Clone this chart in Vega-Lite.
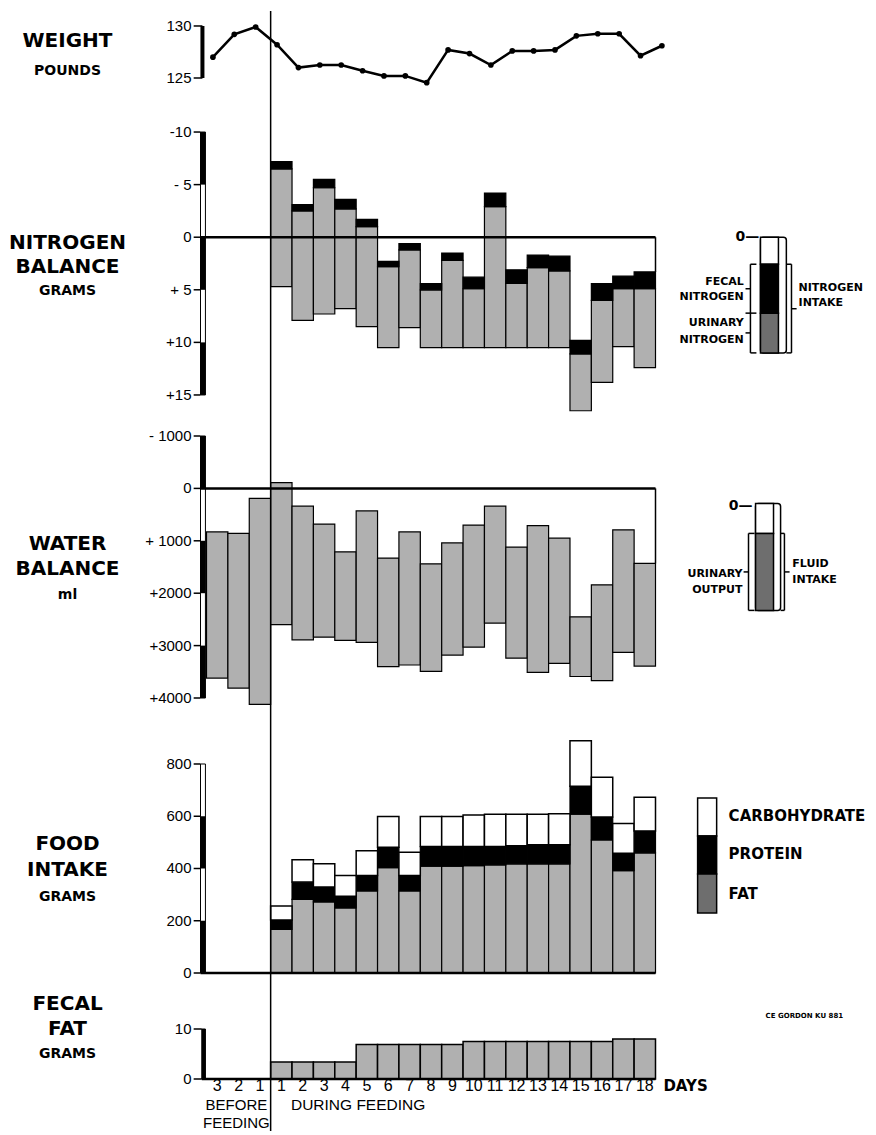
{
"$schema": "https://vega.github.io/schema/vega-lite/v6.json",
"padding": {"left": 8.5, "top": 10, "right": 0, "bottom": 0},
"background": "white",
"bounds": "flush",
"spacing": 0,
"data": {"values": [{}]},
"config": {"view": {"stroke": null}},
"datasets": {
"weight": [
{"t": -2.7, "pounds": 127.0}, {"t": -1.7, "pounds": 129.2}, {"t": -0.7, "pounds": 129.9}, {"t": 0.3, "pounds": 128.2},
{"t": 1.3, "pounds": 126.0}, {"t": 2.3, "pounds": 126.25}, {"t": 3.3, "pounds": 126.25}, {"t": 4.3, "pounds": 125.7},
{"t": 5.3, "pounds": 125.2}, {"t": 6.3, "pounds": 125.2}, {"t": 7.3, "pounds": 124.55}, {"t": 8.3, "pounds": 127.7},
{"t": 9.3, "pounds": 127.35}, {"t": 10.3, "pounds": 126.25}, {"t": 11.3, "pounds": 127.6}, {"t": 12.3, "pounds": 127.6},
{"t": 13.3, "pounds": 127.7}, {"t": 14.3, "pounds": 129.05}, {"t": 15.3, "pounds": 129.25}, {"t": 16.3, "pounds": 129.25},
{"t": 17.3, "pounds": 127.15}, {"t": 18.3, "pounds": 128.1}
],
"nitrogen": [
{"day": 1, "t0": 0, "t1": 1, "balance": -7.2, "split": -6.5, "intake": 4.7},
{"day": 2, "t0": 1, "t1": 2, "balance": -3.1, "split": -2.5, "intake": 7.9},
{"day": 3, "t0": 2, "t1": 3, "balance": -5.5, "split": -4.7, "intake": 7.3},
{"day": 4, "t0": 3, "t1": 4, "balance": -3.6, "split": -2.7, "intake": 6.8},
{"day": 5, "t0": 4, "t1": 5, "balance": -1.7, "split": -1.0, "intake": 8.5},
{"day": 6, "t0": 5, "t1": 6, "balance": 2.3, "split": 2.8, "intake": 10.5},
{"day": 7, "t0": 6, "t1": 7, "balance": 0.6, "split": 1.2, "intake": 8.6},
{"day": 8, "t0": 7, "t1": 8, "balance": 4.4, "split": 5.0, "intake": 10.5},
{"day": 9, "t0": 8, "t1": 9, "balance": 1.5, "split": 2.2, "intake": 10.5},
{"day": 10, "t0": 9, "t1": 10, "balance": 3.8, "split": 4.9, "intake": 10.5},
{"day": 11, "t0": 10, "t1": 11, "balance": -4.2, "split": -2.9, "intake": 10.5},
{"day": 12, "t0": 11, "t1": 12, "balance": 3.1, "split": 4.4, "intake": 10.5},
{"day": 13, "t0": 12, "t1": 13, "balance": 1.7, "split": 2.9, "intake": 10.5},
{"day": 14, "t0": 13, "t1": 14, "balance": 1.8, "split": 3.2, "intake": 10.5},
{"day": 15, "t0": 14, "t1": 15, "balance": 9.8, "split": 11.1, "intake": 16.5},
{"day": 16, "t0": 15, "t1": 16, "balance": 4.4, "split": 6.0, "intake": 13.8},
{"day": 17, "t0": 16, "t1": 17, "balance": 3.7, "split": 4.9, "intake": 10.4},
{"day": 18, "t0": 17, "t1": 18, "balance": 3.3, "split": 4.9, "intake": 12.4}
],
"water": [
{"day": -3, "t0": -3, "t1": -2, "balance": 830, "intake": 3620},
{"day": -2, "t0": -2, "t1": -1, "balance": 860, "intake": 3810},
{"day": -1, "t0": -1, "t1": 0, "balance": 190, "intake": 4120},
{"day": 1, "t0": 0, "t1": 1, "balance": -110, "intake": 2600},
{"day": 2, "t0": 1, "t1": 2, "balance": 340, "intake": 2890},
{"day": 3, "t0": 2, "t1": 3, "balance": 680, "intake": 2840},
{"day": 4, "t0": 3, "t1": 4, "balance": 1210, "intake": 2900},
{"day": 5, "t0": 4, "t1": 5, "balance": 430, "intake": 2940},
{"day": 6, "t0": 5, "t1": 6, "balance": 1330, "intake": 3400},
{"day": 7, "t0": 6, "t1": 7, "balance": 830, "intake": 3370},
{"day": 8, "t0": 7, "t1": 8, "balance": 1440, "intake": 3490},
{"day": 9, "t0": 8, "t1": 9, "balance": 1040, "intake": 3180},
{"day": 10, "t0": 9, "t1": 10, "balance": 700, "intake": 3030},
{"day": 11, "t0": 10, "t1": 11, "balance": 340, "intake": 2570},
{"day": 12, "t0": 11, "t1": 12, "balance": 1120, "intake": 3240},
{"day": 13, "t0": 12, "t1": 13, "balance": 710, "intake": 3510},
{"day": 14, "t0": 13, "t1": 14, "balance": 950, "intake": 3340},
{"day": 15, "t0": 14, "t1": 15, "balance": 2450, "intake": 3590},
{"day": 16, "t0": 15, "t1": 16, "balance": 1840, "intake": 3670},
{"day": 17, "t0": 16, "t1": 17, "balance": 790, "intake": 3130},
{"day": 18, "t0": 17, "t1": 18, "balance": 1430, "intake": 3390}
],
"food": [
{"day": 1, "t0": 0, "t1": 1, "fat": 167, "protein_top": 203, "total": 256},
{"day": 2, "t0": 1, "t1": 2, "fat": 282, "protein_top": 348, "total": 433},
{"day": 3, "t0": 2, "t1": 3, "fat": 272, "protein_top": 329, "total": 418},
{"day": 4, "t0": 3, "t1": 4, "fat": 249, "protein_top": 294, "total": 373},
{"day": 5, "t0": 4, "t1": 5, "fat": 314, "protein_top": 373, "total": 468},
{"day": 6, "t0": 5, "t1": 6, "fat": 403, "protein_top": 481, "total": 599},
{"day": 7, "t0": 6, "t1": 7, "fat": 314, "protein_top": 373, "total": 462},
{"day": 8, "t0": 7, "t1": 8, "fat": 409, "protein_top": 484, "total": 599},
{"day": 9, "t0": 8, "t1": 9, "fat": 409, "protein_top": 484, "total": 599},
{"day": 10, "t0": 9, "t1": 10, "fat": 411, "protein_top": 484, "total": 605},
{"day": 11, "t0": 10, "t1": 11, "fat": 414, "protein_top": 484, "total": 608},
{"day": 12, "t0": 11, "t1": 12, "fat": 418, "protein_top": 487, "total": 608},
{"day": 13, "t0": 12, "t1": 13, "fat": 418, "protein_top": 491, "total": 608},
{"day": 14, "t0": 13, "t1": 14, "fat": 418, "protein_top": 491, "total": 610},
{"day": 15, "t0": 14, "t1": 15, "fat": 608, "protein_top": 715, "total": 889},
{"day": 16, "t0": 15, "t1": 16, "fat": 509, "protein_top": 597, "total": 749},
{"day": 17, "t0": 16, "t1": 17, "fat": 392, "protein_top": 458, "total": 572},
{"day": 18, "t0": 17, "t1": 18, "fat": 460, "protein_top": 544, "total": 673}
],
"fecalfat": [
{"day": -3, "label": "3", "t0": -3, "t1": -2, "grams": 0},
{"day": -2, "label": "2", "t0": -2, "t1": -1, "grams": 0},
{"day": -1, "label": "1", "t0": -1, "t1": 0, "grams": 0},
{"day": 1, "label": "1", "t0": 0, "t1": 1, "grams": 3.4},
{"day": 2, "label": "2", "t0": 1, "t1": 2, "grams": 3.4},
{"day": 3, "label": "3", "t0": 2, "t1": 3, "grams": 3.4},
{"day": 4, "label": "4", "t0": 3, "t1": 4, "grams": 3.4},
{"day": 5, "label": "5", "t0": 4, "t1": 5, "grams": 6.9},
{"day": 6, "label": "6", "t0": 5, "t1": 6, "grams": 6.9},
{"day": 7, "label": "7", "t0": 6, "t1": 7, "grams": 6.9},
{"day": 8, "label": "8", "t0": 7, "t1": 8, "grams": 6.9},
{"day": 9, "label": "9", "t0": 8, "t1": 9, "grams": 6.9},
{"day": 10, "label": "10", "t0": 9, "t1": 10, "grams": 7.5},
{"day": 11, "label": "11", "t0": 10, "t1": 11, "grams": 7.5},
{"day": 12, "label": "12", "t0": 11, "t1": 12, "grams": 7.5},
{"day": 13, "label": "13", "t0": 12, "t1": 13, "grams": 7.5},
{"day": 14, "label": "14", "t0": 13, "t1": 14, "grams": 7.5},
{"day": 15, "label": "15", "t0": 14, "t1": 15, "grams": 7.5},
{"day": 16, "label": "16", "t0": 15, "t1": 16, "grams": 7.5},
{"day": 17, "label": "17", "t0": 16, "t1": 17, "grams": 8.0},
{"day": 18, "label": "18", "t0": 17, "t1": 18, "grams": 8.0}
],
"scalebars": [
{"panel": "nitrogen", "lo": -10, "hi": -5}, {"panel": "nitrogen", "lo": 0, "hi": 5}, {"panel": "nitrogen", "lo": 10, "hi": 15},
{"panel": "water", "lo": -1000, "hi": 0}, {"panel": "water", "lo": 1000, "hi": 2000}, {"panel": "water", "lo": 3000, "hi": 4000},
{"panel": "food", "lo": 0, "hi": 200}, {"panel": "food", "lo": 400, "hi": 600}
],
"yticks": [
{"panel": "weight", "value": 125, "label": "125"}, {"panel": "weight", "value": 130, "label": "130"},
{"panel": "nitrogen", "value": -10, "label": "-10"}, {"panel": "nitrogen", "value": -5, "label": "- 5"}, {"panel": "nitrogen", "value": 0, "label": "0"},
{"panel": "nitrogen", "value": 5, "label": "+ 5"}, {"panel": "nitrogen", "value": 10, "label": "+10"}, {"panel": "nitrogen", "value": 15, "label": "+15"},
{"panel": "water", "value": -1000, "label": "- 1000"}, {"panel": "water", "value": 0, "label": "0"}, {"panel": "water", "value": 1000, "label": "+ 1000"},
{"panel": "water", "value": 2000, "label": "+2000"}, {"panel": "water", "value": 3000, "label": "+3000"}, {"panel": "water", "value": 4000, "label": "+4000"},
{"panel": "food", "value": 0, "label": "0"}, {"panel": "food", "value": 200, "label": "200"}, {"panel": "food", "value": 400, "label": "400"},
{"panel": "food", "value": 600, "label": "600"}, {"panel": "food", "value": 800, "label": "800"},
{"panel": "fecal", "value": 0, "label": "0"}, {"panel": "fecal", "value": 10, "label": "10"}
]
},
"vconcat": [
{
"width": 449, "height": 98,
"layer": [
{"data": {"name": "weight"},
 "mark": {"type": "line", "color": "black", "strokeWidth": 2.5},
 "encoding": {"x": {"field": "t", "type": "quantitative", "scale": {"domain": [-3, 18], "nice": false, "zero": false}, "axis": null},
  "y": {"field": "pounds", "type": "quantitative", "scale": {"domain": [122.02, 131.44], "nice": false, "zero": false}, "axis": null}}},
{"data": {"name": "weight"},
 "mark": {"type": "circle", "color": "black", "opacity": 1, "size": 32},
 "encoding": {"x": {"field": "t", "type": "quantitative", "scale": {"domain": [-3, 18], "nice": false, "zero": false}, "axis": null},
  "y": {"field": "pounds", "type": "quantitative", "scale": {"domain": [122.02, 131.44], "nice": false, "zero": false}, "axis": null}}},
{"data": {"name": "yticks"}, "transform": [{"filter": "datum.panel == 'weight'"}],
 "mark": {"type": "rule", "color": "black", "strokeWidth": 1.5},
 "encoding": {"x": {"datum": -3.6, "type": "quantitative", "scale": {"domain": [-3, 18], "nice": false, "zero": false}, "axis": null}, "x2": {"datum": -3.19},
  "y": {"field": "value", "type": "quantitative", "scale": {"domain": [122.02, 131.44], "nice": false, "zero": false}, "axis": null}}},
{"data": {"name": "yticks"}, "transform": [{"filter": "datum.panel == 'weight'"}],
 "mark": {"type": "text", "font": "Liberation Sans", "fontSize": 15, "align": "right", "baseline": "middle", "color": "black"},
 "encoding": {"x": {"datum": -3.7, "type": "quantitative", "scale": {"domain": [-3, 18], "nice": false, "zero": false}, "axis": null},
  "y": {"field": "value", "type": "quantitative", "scale": {"domain": [122.02, 131.44], "nice": false, "zero": false}, "axis": null},
  "text": {"field": "label", "type": "nominal"}}},
{"mark": {"type": "rule", "color": "black", "strokeWidth": 4},
 "encoding": {"x": {"datum": -3.19, "type": "quantitative", "scale": {"domain": [-3, 18], "nice": false, "zero": false}, "axis": null},
  "y": {"datum": 125, "type": "quantitative", "scale": {"domain": [122.02, 131.44], "nice": false, "zero": false}, "axis": null},
  "y2": {"datum": 130}}},
{"mark": {"type": "rule", "color": "black", "strokeWidth": 1.5},
 "encoding": {"x": {"datum": 0, "type": "quantitative", "scale": {"domain": [-3, 18], "nice": false, "zero": false}, "axis": null},
  "y": {"datum": 131.44, "type": "quantitative", "scale": {"domain": [122.02, 131.44], "nice": false, "zero": false}, "axis": null}, "y2": {"datum": 122.02}}},
{"mark": {"type": "text", "font": "DejaVu Sans", "fontWeight": "bold", "fontSize": 20, "align": "center", "baseline": "middle", "color": "black"},
 "encoding": {"x": {"datum": -9.5, "type": "quantitative", "scale": {"domain": [-3, 18], "nice": false, "zero": false}, "axis": null},
  "y": {"datum": 128.56, "type": "quantitative", "scale": {"domain": [122.02, 131.44], "nice": false, "zero": false}, "axis": null},
  "text": {"value": "WEIGHT"}}},
{"mark": {"type": "text", "font": "DejaVu Sans", "fontWeight": "bold", "fontSize": 14, "align": "center", "baseline": "middle", "color": "black"},
 "encoding": {"x": {"datum": -9.5, "type": "quantitative", "scale": {"domain": [-3, 18], "nice": false, "zero": false}, "axis": null},
  "y": {"datum": 125.67, "type": "quantitative", "scale": {"domain": [122.02, 131.44], "nice": false, "zero": false}, "axis": null},
  "text": {"value": "POUNDS"}}}
]
},
{
"width": 449, "height": 307,
"layer": [
{"data": {"name": "nitrogen"},
 "mark": {"type": "rect", "fill": "#b0b0b0", "stroke": "black", "strokeWidth": 1.2},
 "encoding": {"x": {"field": "t0", "type": "quantitative", "scale": {"domain": [-3, 18], "nice": false, "zero": false}, "axis": null}, "x2": {"field": "t1"},
  "y": {"field": "split", "type": "quantitative", "scale": {"domain": [-12.19, 17.0], "nice": false, "zero": false, "reverse": true}, "axis": null},
  "y2": {"field": "intake"}}},
{"data": {"name": "nitrogen"},
 "mark": {"type": "rect", "fill": "black", "stroke": "black", "strokeWidth": 1.2},
 "encoding": {"x": {"field": "t0", "type": "quantitative", "scale": {"domain": [-3, 18], "nice": false, "zero": false}, "axis": null}, "x2": {"field": "t1"},
  "y": {"field": "balance", "type": "quantitative", "scale": {"domain": [-12.19, 17.0], "nice": false, "zero": false, "reverse": true}, "axis": null}, "y2": {"field": "split"}}},
{"data": {"name": "yticks"}, "transform": [{"filter": "datum.panel == 'nitrogen'"}],
 "mark": {"type": "rule", "color": "black", "strokeWidth": 1.5},
 "encoding": {"x": {"datum": -3.6, "type": "quantitative", "scale": {"domain": [-3, 18], "nice": false, "zero": false}, "axis": null}, "x2": {"datum": -3.28},
  "y": {"field": "value", "type": "quantitative", "scale": {"domain": [-12.19, 17.0], "nice": false, "zero": false, "reverse": true}, "axis": null}}},
{"data": {"name": "yticks"}, "transform": [{"filter": "datum.panel == 'nitrogen'"}],
 "mark": {"type": "text", "font": "Liberation Sans", "fontSize": 15, "align": "right", "baseline": "middle", "color": "black"},
 "encoding": {"x": {"datum": -3.7, "type": "quantitative", "scale": {"domain": [-3, 18], "nice": false, "zero": false}, "axis": null},
  "y": {"field": "value", "type": "quantitative", "scale": {"domain": [-12.19, 17.0], "nice": false, "zero": false, "reverse": true}, "axis": null},
  "text": {"field": "label", "type": "nominal"}}},
{"mark": {"type": "rect", "fill": "white", "stroke": "black", "strokeWidth": 1},
 "encoding": {"x": {"datum": -3.28, "type": "quantitative", "scale": {"domain": [-3, 18], "nice": false, "zero": false}, "axis": null}, "x2": {"datum": -3.05},
  "y": {"datum": -10, "type": "quantitative", "scale": {"domain": [-12.19, 17.0], "nice": false, "zero": false, "reverse": true}, "axis": null},
  "y2": {"datum": 15}}},
{"data": {"name": "scalebars"}, "transform": [{"filter": "datum.panel == 'nitrogen'"}],
 "mark": {"type": "rect", "fill": "black"},
 "encoding": {"x": {"datum": -3.28, "type": "quantitative", "scale": {"domain": [-3, 18], "nice": false, "zero": false}, "axis": null}, "x2": {"datum": -3.05},
  "y": {"field": "lo", "type": "quantitative", "scale": {"domain": [-12.19, 17.0], "nice": false, "zero": false, "reverse": true}, "axis": null}, "y2": {"field": "hi"}}},
{"mark": {"type": "rule", "color": "black", "strokeWidth": 2.5},
 "encoding": {"x": {"datum": -3.28, "type": "quantitative", "scale": {"domain": [-3, 18], "nice": false, "zero": false}, "axis": null}, "x2": {"datum": 18},
  "y": {"datum": 0, "type": "quantitative", "scale": {"domain": [-12.19, 17.0], "nice": false, "zero": false, "reverse": true}, "axis": null}}},
{"mark": {"type": "rule", "color": "black", "strokeWidth": 1.5},
 "encoding": {"x": {"datum": 0, "type": "quantitative", "scale": {"domain": [-3, 18], "nice": false, "zero": false}, "axis": null},
  "y": {"datum": -12.19, "type": "quantitative", "scale": {"domain": [-12.19, 17.0], "nice": false, "zero": false, "reverse": true}, "axis": null}, "y2": {"datum": 17.0}}},
{"data": {"name": "nitrogen"}, "transform": [{"filter": "datum.day == 18"}],
 "mark": {"type": "rule", "color": "black", "strokeWidth": 1.5},
 "encoding": {"x": {"field": "t1", "type": "quantitative", "scale": {"domain": [-3, 18], "nice": false, "zero": false}, "axis": null},
  "y": {"field": "balance", "type": "quantitative", "scale": {"domain": [-12.19, 17.0], "nice": false, "zero": false, "reverse": true}, "axis": null}, "y2": {"datum": 0}}},
{"mark": {"type": "rect", "fill": "white", "stroke": "black", "strokeWidth": 1.5, "cornerRadius": 3},
 "encoding": {"x": {"datum": 22.91, "type": "quantitative", "scale": {"domain": [-3, 18], "nice": false, "zero": false}, "axis": null}, "x2": {"datum": 24.12},
  "y": {"datum": 0, "type": "quantitative", "scale": {"domain": [-12.19, 17.0], "nice": false, "zero": false, "reverse": true}, "axis": null}, "y2": {"datum": 11.0}}},
{"mark": {"type": "rect", "fill": "white", "stroke": "black", "strokeWidth": 1.5},
 "encoding": {"x": {"datum": 22.91, "type": "quantitative", "scale": {"domain": [-3, 18], "nice": false, "zero": false}, "axis": null}, "x2": {"datum": 23.75},
  "y": {"datum": 0, "type": "quantitative", "scale": {"domain": [-12.19, 17.0], "nice": false, "zero": false, "reverse": true}, "axis": null}, "y2": {"datum": 2.57}}},
{"mark": {"type": "rect", "fill": "black", "stroke": "black", "strokeWidth": 1.5},
 "encoding": {"x": {"datum": 22.91, "type": "quantitative", "scale": {"domain": [-3, 18], "nice": false, "zero": false}, "axis": null}, "x2": {"datum": 23.75},
  "y": {"datum": 2.57, "type": "quantitative", "scale": {"domain": [-12.19, 17.0], "nice": false, "zero": false, "reverse": true}, "axis": null}, "y2": {"datum": 7.22}}},
{"mark": {"type": "rect", "fill": "#6e6e6e", "stroke": "black", "strokeWidth": 1.5},
 "encoding": {"x": {"datum": 22.91, "type": "quantitative", "scale": {"domain": [-3, 18], "nice": false, "zero": false}, "axis": null}, "x2": {"datum": 23.75},
  "y": {"datum": 7.22, "type": "quantitative", "scale": {"domain": [-12.19, 17.0], "nice": false, "zero": false, "reverse": true}, "axis": null}, "y2": {"datum": 11.0}}},
{"mark": {"type": "text", "font": "DejaVu Sans", "fontWeight": "bold", "fontSize": 14, "align": "right", "baseline": "middle", "color": "black"},
 "encoding": {"x": {"datum": 22.85, "type": "quantitative", "scale": {"domain": [-3, 18], "nice": false, "zero": false}, "axis": null},
  "y": {"datum": 0, "type": "quantitative", "scale": {"domain": [-12.19, 17.0], "nice": false, "zero": false, "reverse": true}, "axis": null},
  "text": {"value": "0—"}}},
{"mark": {"type": "rule", "color": "black", "strokeWidth": 1.5},
 "encoding": {"x": {"datum": 22.44, "type": "quantitative", "scale": {"domain": [-3, 18], "nice": false, "zero": false}, "axis": null},
  "y": {"datum": 2.57, "type": "quantitative", "scale": {"domain": [-12.19, 17.0], "nice": false, "zero": false, "reverse": true}, "axis": null}, "y2": {"datum": 11.0}}},
{"mark": {"type": "rule", "color": "black", "strokeWidth": 1.5},
 "encoding": {"x": {"datum": 22.44, "type": "quantitative", "scale": {"domain": [-3, 18], "nice": false, "zero": false}, "axis": null}, "x2": {"datum": 22.72},
  "y": {"datum": 2.57, "type": "quantitative", "scale": {"domain": [-12.19, 17.0], "nice": false, "zero": false, "reverse": true}, "axis": null}}},
{"mark": {"type": "rule", "color": "black", "strokeWidth": 1.5},
 "encoding": {"x": {"datum": 22.21, "type": "quantitative", "scale": {"domain": [-3, 18], "nice": false, "zero": false}, "axis": null}, "x2": {"datum": 22.72},
  "y": {"datum": 7.22, "type": "quantitative", "scale": {"domain": [-12.19, 17.0], "nice": false, "zero": false, "reverse": true}, "axis": null}}},
{"mark": {"type": "rule", "color": "black", "strokeWidth": 1.5},
 "encoding": {"x": {"datum": 22.44, "type": "quantitative", "scale": {"domain": [-3, 18], "nice": false, "zero": false}, "axis": null}, "x2": {"datum": 22.72},
  "y": {"datum": 11.0, "type": "quantitative", "scale": {"domain": [-12.19, 17.0], "nice": false, "zero": false, "reverse": true}, "axis": null}}},
{"mark": {"type": "rule", "color": "black", "strokeWidth": 1.5},
 "encoding": {"x": {"datum": 22.21, "type": "quantitative", "scale": {"domain": [-3, 18], "nice": false, "zero": false}, "axis": null}, "x2": {"datum": 22.44},
  "y": {"datum": 4.9, "type": "quantitative", "scale": {"domain": [-12.19, 17.0], "nice": false, "zero": false, "reverse": true}, "axis": null}}},
{"mark": {"type": "rule", "color": "black", "strokeWidth": 1.5},
 "encoding": {"x": {"datum": 22.21, "type": "quantitative", "scale": {"domain": [-3, 18], "nice": false, "zero": false}, "axis": null}, "x2": {"datum": 22.44},
  "y": {"datum": 9.1, "type": "quantitative", "scale": {"domain": [-12.19, 17.0], "nice": false, "zero": false, "reverse": true}, "axis": null}}},
{"mark": {"type": "rule", "color": "black", "strokeWidth": 1.5},
 "encoding": {"x": {"datum": 24.36, "type": "quantitative", "scale": {"domain": [-3, 18], "nice": false, "zero": false}, "axis": null},
  "y": {"datum": 2.57, "type": "quantitative", "scale": {"domain": [-12.19, 17.0], "nice": false, "zero": false, "reverse": true}, "axis": null}, "y2": {"datum": 11.0}}},
{"mark": {"type": "rule", "color": "black", "strokeWidth": 1.5},
 "encoding": {"x": {"datum": 24.12, "type": "quantitative", "scale": {"domain": [-3, 18], "nice": false, "zero": false}, "axis": null}, "x2": {"datum": 24.36},
  "y": {"datum": 2.57, "type": "quantitative", "scale": {"domain": [-12.19, 17.0], "nice": false, "zero": false, "reverse": true}, "axis": null}}},
{"mark": {"type": "rule", "color": "black", "strokeWidth": 1.5},
 "encoding": {"x": {"datum": 24.12, "type": "quantitative", "scale": {"domain": [-3, 18], "nice": false, "zero": false}, "axis": null}, "x2": {"datum": 24.36},
  "y": {"datum": 11.0, "type": "quantitative", "scale": {"domain": [-12.19, 17.0], "nice": false, "zero": false, "reverse": true}, "axis": null}}},
{"mark": {"type": "rule", "color": "black", "strokeWidth": 1.5},
 "encoding": {"x": {"datum": 24.36, "type": "quantitative", "scale": {"domain": [-3, 18], "nice": false, "zero": false}, "axis": null}, "x2": {"datum": 24.6},
  "y": {"datum": 6.8, "type": "quantitative", "scale": {"domain": [-12.19, 17.0], "nice": false, "zero": false, "reverse": true}, "axis": null}}},
{"mark": {"type": "text", "font": "DejaVu Sans", "fontWeight": "bold", "fontSize": 11, "align": "right", "baseline": "middle", "color": "black"},
 "encoding": {"x": {"datum": 22.13, "type": "quantitative", "scale": {"domain": [-3, 18], "nice": false, "zero": false}, "axis": null},
  "y": {"datum": 4.28, "type": "quantitative", "scale": {"domain": [-12.19, 17.0], "nice": false, "zero": false, "reverse": true}, "axis": null},
  "text": {"value": "FECAL"}}},
{"mark": {"type": "text", "font": "DejaVu Sans", "fontWeight": "bold", "fontSize": 11, "align": "right", "baseline": "middle", "color": "black"},
 "encoding": {"x": {"datum": 22.13, "type": "quantitative", "scale": {"domain": [-3, 18], "nice": false, "zero": false}, "axis": null},
  "y": {"datum": 5.7, "type": "quantitative", "scale": {"domain": [-12.19, 17.0], "nice": false, "zero": false, "reverse": true}, "axis": null},
  "text": {"value": "NITROGEN"}}},
{"mark": {"type": "text", "font": "DejaVu Sans", "fontWeight": "bold", "fontSize": 11, "align": "right", "baseline": "middle", "color": "black"},
 "encoding": {"x": {"datum": 22.13, "type": "quantitative", "scale": {"domain": [-3, 18], "nice": false, "zero": false}, "axis": null},
  "y": {"datum": 8.17, "type": "quantitative", "scale": {"domain": [-12.19, 17.0], "nice": false, "zero": false, "reverse": true}, "axis": null},
  "text": {"value": "URINARY"}}},
{"mark": {"type": "text", "font": "DejaVu Sans", "fontWeight": "bold", "fontSize": 11, "align": "right", "baseline": "middle", "color": "black"},
 "encoding": {"x": {"datum": 22.13, "type": "quantitative", "scale": {"domain": [-3, 18], "nice": false, "zero": false}, "axis": null},
  "y": {"datum": 9.79, "type": "quantitative", "scale": {"domain": [-12.19, 17.0], "nice": false, "zero": false, "reverse": true}, "axis": null},
  "text": {"value": "NITROGEN"}}},
{"mark": {"type": "text", "font": "DejaVu Sans", "fontWeight": "bold", "fontSize": 11, "align": "left", "baseline": "middle", "color": "black"},
 "encoding": {"x": {"datum": 24.69, "type": "quantitative", "scale": {"domain": [-3, 18], "nice": false, "zero": false}, "axis": null},
  "y": {"datum": 4.85, "type": "quantitative", "scale": {"domain": [-12.19, 17.0], "nice": false, "zero": false, "reverse": true}, "axis": null},
  "text": {"value": "NITROGEN"}}},
{"mark": {"type": "text", "font": "DejaVu Sans", "fontWeight": "bold", "fontSize": 11, "align": "left", "baseline": "middle", "color": "black"},
 "encoding": {"x": {"datum": 24.69, "type": "quantitative", "scale": {"domain": [-3, 18], "nice": false, "zero": false}, "axis": null},
  "y": {"datum": 6.27, "type": "quantitative", "scale": {"domain": [-12.19, 17.0], "nice": false, "zero": false, "reverse": true}, "axis": null},
  "text": {"value": "INTAKE"}}},
{"mark": {"type": "text", "font": "DejaVu Sans", "fontWeight": "bold", "fontSize": 20, "align": "center", "baseline": "middle", "color": "black"},
 "encoding": {"x": {"datum": -9.5, "type": "quantitative", "scale": {"domain": [-3, 18], "nice": false, "zero": false}, "axis": null},
  "y": {"datum": 0.57, "type": "quantitative", "scale": {"domain": [-12.19, 17.0], "nice": false, "zero": false, "reverse": true}, "axis": null},
  "text": {"value": "NITROGEN"}}},
{"mark": {"type": "text", "font": "DejaVu Sans", "fontWeight": "bold", "fontSize": 20, "align": "center", "baseline": "middle", "color": "black"},
 "encoding": {"x": {"datum": -9.5, "type": "quantitative", "scale": {"domain": [-3, 18], "nice": false, "zero": false}, "axis": null},
  "y": {"datum": 2.85, "type": "quantitative", "scale": {"domain": [-12.19, 17.0], "nice": false, "zero": false, "reverse": true}, "axis": null},
  "text": {"value": "BALANCE"}}},
{"mark": {"type": "text", "font": "DejaVu Sans", "fontWeight": "bold", "fontSize": 14, "align": "center", "baseline": "middle", "color": "black"},
 "encoding": {"x": {"datum": -9.5, "type": "quantitative", "scale": {"domain": [-3, 18], "nice": false, "zero": false}, "axis": null},
  "y": {"datum": 5.13, "type": "quantitative", "scale": {"domain": [-12.19, 17.0], "nice": false, "zero": false, "reverse": true}, "axis": null},
  "text": {"value": "GRAMS"}}}
]
},
{
"width": 449, "height": 300,
"layer": [
{"data": {"name": "water"},
 "mark": {"type": "rect", "fill": "#b0b0b0", "stroke": "black", "strokeWidth": 1.2},
 "encoding": {"x": {"field": "t0", "type": "quantitative", "scale": {"domain": [-3, 18], "nice": false, "zero": false}, "axis": null}, "x2": {"field": "t1"},
  "y": {"field": "balance", "type": "quantitative", "scale": {"domain": [-1381.7, 4343.5], "nice": false, "zero": false, "reverse": true}, "axis": null},
  "y2": {"field": "intake"}}},
{"data": {"name": "yticks"}, "transform": [{"filter": "datum.panel == 'water'"}],
 "mark": {"type": "rule", "color": "black", "strokeWidth": 1.5},
 "encoding": {"x": {"datum": -3.6, "type": "quantitative", "scale": {"domain": [-3, 18], "nice": false, "zero": false}, "axis": null}, "x2": {"datum": -3.28},
  "y": {"field": "value", "type": "quantitative", "scale": {"domain": [-1381.7, 4343.5], "nice": false, "zero": false, "reverse": true}, "axis": null}}},
{"data": {"name": "yticks"}, "transform": [{"filter": "datum.panel == 'water'"}],
 "mark": {"type": "text", "font": "Liberation Sans", "fontSize": 15, "align": "right", "baseline": "middle", "color": "black"},
 "encoding": {"x": {"datum": -3.7, "type": "quantitative", "scale": {"domain": [-3, 18], "nice": false, "zero": false}, "axis": null},
  "y": {"field": "value", "type": "quantitative", "scale": {"domain": [-1381.7, 4343.5], "nice": false, "zero": false, "reverse": true}, "axis": null},
  "text": {"field": "label", "type": "nominal"}}},
{"mark": {"type": "rect", "fill": "white", "stroke": "black", "strokeWidth": 1},
 "encoding": {"x": {"datum": -3.28, "type": "quantitative", "scale": {"domain": [-3, 18], "nice": false, "zero": false}, "axis": null}, "x2": {"datum": -3.05},
  "y": {"datum": -1000, "type": "quantitative", "scale": {"domain": [-1381.7, 4343.5], "nice": false, "zero": false, "reverse": true}, "axis": null},
  "y2": {"datum": 4000}}},
{"data": {"name": "scalebars"}, "transform": [{"filter": "datum.panel == 'water'"}],
 "mark": {"type": "rect", "fill": "black"},
 "encoding": {"x": {"datum": -3.28, "type": "quantitative", "scale": {"domain": [-3, 18], "nice": false, "zero": false}, "axis": null}, "x2": {"datum": -3.05},
  "y": {"field": "lo", "type": "quantitative", "scale": {"domain": [-1381.7, 4343.5], "nice": false, "zero": false, "reverse": true}, "axis": null}, "y2": {"field": "hi"}}},
{"mark": {"type": "rule", "color": "black", "strokeWidth": 2.5},
 "encoding": {"x": {"datum": -3.28, "type": "quantitative", "scale": {"domain": [-3, 18], "nice": false, "zero": false}, "axis": null}, "x2": {"datum": 18},
  "y": {"datum": 0, "type": "quantitative", "scale": {"domain": [-1381.7, 4343.5], "nice": false, "zero": false, "reverse": true}, "axis": null}}},
{"mark": {"type": "rule", "color": "black", "strokeWidth": 1.5},
 "encoding": {"x": {"datum": 0, "type": "quantitative", "scale": {"domain": [-3, 18], "nice": false, "zero": false}, "axis": null},
  "y": {"datum": -1381.7, "type": "quantitative", "scale": {"domain": [-1381.7, 4343.5], "nice": false, "zero": false, "reverse": true}, "axis": null}, "y2": {"datum": 4343.5}}},
{"data": {"name": "water"}, "transform": [{"filter": "datum.day == 18"}],
 "mark": {"type": "rule", "color": "black", "strokeWidth": 1.5},
 "encoding": {"x": {"field": "t1", "type": "quantitative", "scale": {"domain": [-3, 18], "nice": false, "zero": false}, "axis": null},
  "y": {"field": "balance", "type": "quantitative", "scale": {"domain": [-1381.7, 4343.5], "nice": false, "zero": false, "reverse": true}, "axis": null}, "y2": {"datum": 0}}},
{"mark": {"type": "rect", "fill": "white", "stroke": "black", "strokeWidth": 1.5, "cornerRadius": 3},
 "encoding": {"x": {"datum": 22.68, "type": "quantitative", "scale": {"domain": [-3, 18], "nice": false, "zero": false}, "axis": null}, "x2": {"datum": 23.85},
  "y": {"datum": 286, "type": "quantitative", "scale": {"domain": [-1381.7, 4343.5], "nice": false, "zero": false, "reverse": true}, "axis": null}, "y2": {"datum": 2328}}},
{"mark": {"type": "rect", "fill": "white", "stroke": "black", "strokeWidth": 1.5},
 "encoding": {"x": {"datum": 22.68, "type": "quantitative", "scale": {"domain": [-3, 18], "nice": false, "zero": false}, "axis": null}, "x2": {"datum": 23.52},
  "y": {"datum": 286, "type": "quantitative", "scale": {"domain": [-1381.7, 4343.5], "nice": false, "zero": false, "reverse": true}, "axis": null}, "y2": {"datum": 859}}},
{"mark": {"type": "rect", "fill": "#6e6e6e", "stroke": "black", "strokeWidth": 1.5},
 "encoding": {"x": {"datum": 22.68, "type": "quantitative", "scale": {"domain": [-3, 18], "nice": false, "zero": false}, "axis": null}, "x2": {"datum": 23.52},
  "y": {"datum": 859, "type": "quantitative", "scale": {"domain": [-1381.7, 4343.5], "nice": false, "zero": false, "reverse": true}, "axis": null}, "y2": {"datum": 2328}}},
{"mark": {"type": "text", "font": "DejaVu Sans", "fontWeight": "bold", "fontSize": 14, "align": "right", "baseline": "middle", "color": "black"},
 "encoding": {"x": {"datum": 22.54, "type": "quantitative", "scale": {"domain": [-3, 18], "nice": false, "zero": false}, "axis": null},
  "y": {"datum": 344, "type": "quantitative", "scale": {"domain": [-1381.7, 4343.5], "nice": false, "zero": false, "reverse": true}, "axis": null},
  "text": {"value": "0—"}}},
{"mark": {"type": "rule", "color": "black", "strokeWidth": 1.5},
 "encoding": {"x": {"datum": 22.35, "type": "quantitative", "scale": {"domain": [-3, 18], "nice": false, "zero": false}, "axis": null},
  "y": {"datum": 859, "type": "quantitative", "scale": {"domain": [-1381.7, 4343.5], "nice": false, "zero": false, "reverse": true}, "axis": null}, "y2": {"datum": 2328}}},
{"mark": {"type": "rule", "color": "black", "strokeWidth": 1.5},
 "encoding": {"x": {"datum": 22.35, "type": "quantitative", "scale": {"domain": [-3, 18], "nice": false, "zero": false}, "axis": null}, "x2": {"datum": 22.63},
  "y": {"datum": 859, "type": "quantitative", "scale": {"domain": [-1381.7, 4343.5], "nice": false, "zero": false, "reverse": true}, "axis": null}}},
{"mark": {"type": "rule", "color": "black", "strokeWidth": 1.5},
 "encoding": {"x": {"datum": 22.35, "type": "quantitative", "scale": {"domain": [-3, 18], "nice": false, "zero": false}, "axis": null}, "x2": {"datum": 22.63},
  "y": {"datum": 2328, "type": "quantitative", "scale": {"domain": [-1381.7, 4343.5], "nice": false, "zero": false, "reverse": true}, "axis": null}}},
{"mark": {"type": "rule", "color": "black", "strokeWidth": 1.5},
 "encoding": {"x": {"datum": 22.12, "type": "quantitative", "scale": {"domain": [-3, 18], "nice": false, "zero": false}, "axis": null}, "x2": {"datum": 22.35},
  "y": {"datum": 1594, "type": "quantitative", "scale": {"domain": [-1381.7, 4343.5], "nice": false, "zero": false, "reverse": true}, "axis": null}}},
{"mark": {"type": "rule", "color": "black", "strokeWidth": 1.5},
 "encoding": {"x": {"datum": 24.03, "type": "quantitative", "scale": {"domain": [-3, 18], "nice": false, "zero": false}, "axis": null},
  "y": {"datum": 859, "type": "quantitative", "scale": {"domain": [-1381.7, 4343.5], "nice": false, "zero": false, "reverse": true}, "axis": null}, "y2": {"datum": 2328}}},
{"mark": {"type": "rule", "color": "black", "strokeWidth": 1.5},
 "encoding": {"x": {"datum": 23.85, "type": "quantitative", "scale": {"domain": [-3, 18], "nice": false, "zero": false}, "axis": null}, "x2": {"datum": 24.03},
  "y": {"datum": 859, "type": "quantitative", "scale": {"domain": [-1381.7, 4343.5], "nice": false, "zero": false, "reverse": true}, "axis": null}}},
{"mark": {"type": "rule", "color": "black", "strokeWidth": 1.5},
 "encoding": {"x": {"datum": 23.85, "type": "quantitative", "scale": {"domain": [-3, 18], "nice": false, "zero": false}, "axis": null}, "x2": {"datum": 24.03},
  "y": {"datum": 2328, "type": "quantitative", "scale": {"domain": [-1381.7, 4343.5], "nice": false, "zero": false, "reverse": true}, "axis": null}}},
{"mark": {"type": "rule", "color": "black", "strokeWidth": 1.5},
 "encoding": {"x": {"datum": 24.03, "type": "quantitative", "scale": {"domain": [-3, 18], "nice": false, "zero": false}, "axis": null}, "x2": {"datum": 24.27},
  "y": {"datum": 1594, "type": "quantitative", "scale": {"domain": [-1381.7, 4343.5], "nice": false, "zero": false, "reverse": true}, "axis": null}}},
{"mark": {"type": "text", "font": "DejaVu Sans", "fontWeight": "bold", "fontSize": 11, "align": "right", "baseline": "middle", "color": "black"},
 "encoding": {"x": {"datum": 22.07, "type": "quantitative", "scale": {"domain": [-3, 18], "nice": false, "zero": false}, "axis": null},
  "y": {"datum": 1641, "type": "quantitative", "scale": {"domain": [-1381.7, 4343.5], "nice": false, "zero": false, "reverse": true}, "axis": null},
  "text": {"value": "URINARY"}}},
{"mark": {"type": "text", "font": "DejaVu Sans", "fontWeight": "bold", "fontSize": 11, "align": "right", "baseline": "middle", "color": "black"},
 "encoding": {"x": {"datum": 22.07, "type": "quantitative", "scale": {"domain": [-3, 18], "nice": false, "zero": false}, "axis": null},
  "y": {"datum": 1947, "type": "quantitative", "scale": {"domain": [-1381.7, 4343.5], "nice": false, "zero": false, "reverse": true}, "axis": null},
  "text": {"value": "OUTPUT"}}},
{"mark": {"type": "text", "font": "DejaVu Sans", "fontWeight": "bold", "fontSize": 11, "align": "left", "baseline": "middle", "color": "black"},
 "encoding": {"x": {"datum": 24.4, "type": "quantitative", "scale": {"domain": [-3, 18], "nice": false, "zero": false}, "axis": null},
  "y": {"datum": 1450, "type": "quantitative", "scale": {"domain": [-1381.7, 4343.5], "nice": false, "zero": false, "reverse": true}, "axis": null},
  "text": {"value": "FLUID"}}},
{"mark": {"type": "text", "font": "DejaVu Sans", "fontWeight": "bold", "fontSize": 11, "align": "left", "baseline": "middle", "color": "black"},
 "encoding": {"x": {"datum": 24.4, "type": "quantitative", "scale": {"domain": [-3, 18], "nice": false, "zero": false}, "axis": null},
  "y": {"datum": 1756, "type": "quantitative", "scale": {"domain": [-1381.7, 4343.5], "nice": false, "zero": false, "reverse": true}, "axis": null},
  "text": {"value": "INTAKE"}}},
{"mark": {"type": "text", "font": "DejaVu Sans", "fontWeight": "bold", "fontSize": 20, "align": "center", "baseline": "middle", "color": "black"},
 "encoding": {"x": {"datum": -9.5, "type": "quantitative", "scale": {"domain": [-3, 18], "nice": false, "zero": false}, "axis": null},
  "y": {"datum": 1069, "type": "quantitative", "scale": {"domain": [-1381.7, 4343.5], "nice": false, "zero": false, "reverse": true}, "axis": null},
  "text": {"value": "WATER"}}},
{"mark": {"type": "text", "font": "DejaVu Sans", "fontWeight": "bold", "fontSize": 20, "align": "center", "baseline": "middle", "color": "black"},
 "encoding": {"x": {"datum": -9.5, "type": "quantitative", "scale": {"domain": [-3, 18], "nice": false, "zero": false}, "axis": null},
  "y": {"datum": 1546, "type": "quantitative", "scale": {"domain": [-1381.7, 4343.5], "nice": false, "zero": false, "reverse": true}, "axis": null},
  "text": {"value": "BALANCE"}}},
{"mark": {"type": "text", "font": "DejaVu Sans", "fontWeight": "bold", "fontSize": 14, "align": "center", "baseline": "middle", "color": "black"},
 "encoding": {"x": {"datum": -9.5, "type": "quantitative", "scale": {"domain": [-3, 18], "nice": false, "zero": false}, "axis": null},
  "y": {"datum": 2042, "type": "quantitative", "scale": {"domain": [-1381.7, 4343.5], "nice": false, "zero": false, "reverse": true}, "axis": null},
  "text": {"value": "ml"}}}
]
},
{
"width": 449, "height": 275,
"layer": [
{"data": {"name": "food"},
 "mark": {"type": "rect", "fill": "#b0b0b0", "stroke": "black", "strokeWidth": 1.2},
 "encoding": {"x": {"field": "t0", "type": "quantitative", "scale": {"domain": [-3, 18], "nice": false, "zero": false}, "axis": null}, "x2": {"field": "t1"},
  "y": {"field": "fat", "type": "quantitative", "scale": {"domain": [-68.9, 983.7], "nice": false, "zero": false}, "axis": null},
  "y2": {"datum": 0}}},
{"data": {"name": "food"},
 "mark": {"type": "rect", "fill": "black", "stroke": "black", "strokeWidth": 1.2},
 "encoding": {"x": {"field": "t0", "type": "quantitative", "scale": {"domain": [-3, 18], "nice": false, "zero": false}, "axis": null}, "x2": {"field": "t1"},
  "y": {"field": "fat", "type": "quantitative", "scale": {"domain": [-68.9, 983.7], "nice": false, "zero": false}, "axis": null}, "y2": {"field": "protein_top"}}},
{"data": {"name": "food"},
 "mark": {"type": "rect", "fill": "white", "stroke": "black", "strokeWidth": 1.5},
 "encoding": {"x": {"field": "t0", "type": "quantitative", "scale": {"domain": [-3, 18], "nice": false, "zero": false}, "axis": null}, "x2": {"field": "t1"},
  "y": {"field": "protein_top", "type": "quantitative", "scale": {"domain": [-68.9, 983.7], "nice": false, "zero": false}, "axis": null}, "y2": {"field": "total"}}},
{"data": {"name": "yticks"}, "transform": [{"filter": "datum.panel == 'food'"}],
 "mark": {"type": "rule", "color": "black", "strokeWidth": 1.5},
 "encoding": {"x": {"datum": -3.6, "type": "quantitative", "scale": {"domain": [-3, 18], "nice": false, "zero": false}, "axis": null}, "x2": {"datum": -3.28},
  "y": {"field": "value", "type": "quantitative", "scale": {"domain": [-68.9, 983.7], "nice": false, "zero": false}, "axis": null}}},
{"data": {"name": "yticks"}, "transform": [{"filter": "datum.panel == 'food'"}],
 "mark": {"type": "text", "font": "Liberation Sans", "fontSize": 15, "align": "right", "baseline": "middle", "color": "black"},
 "encoding": {"x": {"datum": -3.7, "type": "quantitative", "scale": {"domain": [-3, 18], "nice": false, "zero": false}, "axis": null},
  "y": {"field": "value", "type": "quantitative", "scale": {"domain": [-68.9, 983.7], "nice": false, "zero": false}, "axis": null},
  "text": {"field": "label", "type": "nominal"}}},
{"mark": {"type": "rect", "fill": "white", "stroke": "black", "strokeWidth": 1},
 "encoding": {"x": {"datum": -3.28, "type": "quantitative", "scale": {"domain": [-3, 18], "nice": false, "zero": false}, "axis": null}, "x2": {"datum": -3.05},
  "y": {"datum": 0, "type": "quantitative", "scale": {"domain": [-68.9, 983.7], "nice": false, "zero": false}, "axis": null},
  "y2": {"datum": 800}}},
{"data": {"name": "scalebars"}, "transform": [{"filter": "datum.panel == 'food'"}],
 "mark": {"type": "rect", "fill": "black"},
 "encoding": {"x": {"datum": -3.28, "type": "quantitative", "scale": {"domain": [-3, 18], "nice": false, "zero": false}, "axis": null}, "x2": {"datum": -3.05},
  "y": {"field": "lo", "type": "quantitative", "scale": {"domain": [-68.9, 983.7], "nice": false, "zero": false}, "axis": null}, "y2": {"field": "hi"}}},
{"mark": {"type": "rule", "color": "black", "strokeWidth": 2.5},
 "encoding": {"x": {"datum": -3.28, "type": "quantitative", "scale": {"domain": [-3, 18], "nice": false, "zero": false}, "axis": null}, "x2": {"datum": 18},
  "y": {"datum": 0, "type": "quantitative", "scale": {"domain": [-68.9, 983.7], "nice": false, "zero": false}, "axis": null}}},
{"mark": {"type": "rule", "color": "black", "strokeWidth": 1.5},
 "encoding": {"x": {"datum": 0, "type": "quantitative", "scale": {"domain": [-3, 18], "nice": false, "zero": false}, "axis": null},
  "y": {"datum": -68.9, "type": "quantitative", "scale": {"domain": [-68.9, 983.7], "nice": false, "zero": false}, "axis": null}, "y2": {"datum": 983.7}}},
{"mark": {"type": "rect", "fill": "white", "stroke": "black", "strokeWidth": 1.5},
 "encoding": {"x": {"datum": 19.97, "type": "quantitative", "scale": {"domain": [-3, 18], "nice": false, "zero": false}, "axis": null}, "x2": {"datum": 20.86},
  "y": {"datum": 524, "type": "quantitative", "scale": {"domain": [-68.9, 983.7], "nice": false, "zero": false}, "axis": null}, "y2": {"datum": 670}}},
{"mark": {"type": "rect", "fill": "black", "stroke": "black", "strokeWidth": 1.5},
 "encoding": {"x": {"datum": 19.97, "type": "quantitative", "scale": {"domain": [-3, 18], "nice": false, "zero": false}, "axis": null}, "x2": {"datum": 20.86},
  "y": {"datum": 379, "type": "quantitative", "scale": {"domain": [-68.9, 983.7], "nice": false, "zero": false}, "axis": null}, "y2": {"datum": 524}}},
{"mark": {"type": "rect", "fill": "#6e6e6e", "stroke": "black", "strokeWidth": 1.5},
 "encoding": {"x": {"datum": 19.97, "type": "quantitative", "scale": {"domain": [-3, 18], "nice": false, "zero": false}, "axis": null}, "x2": {"datum": 20.86},
  "y": {"datum": 230, "type": "quantitative", "scale": {"domain": [-68.9, 983.7], "nice": false, "zero": false}, "axis": null}, "y2": {"datum": 379}}},
{"mark": {"type": "text", "font": "DejaVu Sans", "fontWeight": "bold", "fontSize": 15, "align": "left", "baseline": "middle", "color": "black"},
 "encoding": {"x": {"datum": 21.42, "type": "quantitative", "scale": {"domain": [-3, 18], "nice": false, "zero": false}, "axis": null},
  "y": {"datum": 601, "type": "quantitative", "scale": {"domain": [-68.9, 983.7], "nice": false, "zero": false}, "axis": null},
  "text": {"value": "CARBOHYDRATE"}}},
{"mark": {"type": "text", "font": "DejaVu Sans", "fontWeight": "bold", "fontSize": 15, "align": "left", "baseline": "middle", "color": "black"},
 "encoding": {"x": {"datum": 21.42, "type": "quantitative", "scale": {"domain": [-3, 18], "nice": false, "zero": false}, "axis": null},
  "y": {"datum": 455, "type": "quantitative", "scale": {"domain": [-68.9, 983.7], "nice": false, "zero": false}, "axis": null},
  "text": {"value": "PROTEIN"}}},
{"mark": {"type": "text", "font": "DejaVu Sans", "fontWeight": "bold", "fontSize": 15, "align": "left", "baseline": "middle", "color": "black"},
 "encoding": {"x": {"datum": 21.42, "type": "quantitative", "scale": {"domain": [-3, 18], "nice": false, "zero": false}, "axis": null},
  "y": {"datum": 302, "type": "quantitative", "scale": {"domain": [-68.9, 983.7], "nice": false, "zero": false}, "axis": null},
  "text": {"value": "FAT"}}},
{"mark": {"type": "text", "font": "DejaVu Sans", "fontWeight": "bold", "fontSize": 20, "align": "center", "baseline": "middle", "color": "black"},
 "encoding": {"x": {"datum": -9.5, "type": "quantitative", "scale": {"domain": [-3, 18], "nice": false, "zero": false}, "axis": null},
  "y": {"datum": 494, "type": "quantitative", "scale": {"domain": [-68.9, 983.7], "nice": false, "zero": false}, "axis": null},
  "text": {"value": "FOOD"}}},
{"mark": {"type": "text", "font": "DejaVu Sans", "fontWeight": "bold", "fontSize": 20, "align": "center", "baseline": "middle", "color": "black"},
 "encoding": {"x": {"datum": -9.5, "type": "quantitative", "scale": {"domain": [-3, 18], "nice": false, "zero": false}, "axis": null},
  "y": {"datum": 394, "type": "quantitative", "scale": {"domain": [-68.9, 983.7], "nice": false, "zero": false}, "axis": null},
  "text": {"value": "INTAKE"}}},
{"mark": {"type": "text", "font": "DejaVu Sans", "fontWeight": "bold", "fontSize": 14, "align": "center", "baseline": "middle", "color": "black"},
 "encoding": {"x": {"datum": -9.5, "type": "quantitative", "scale": {"domain": [-3, 18], "nice": false, "zero": false}, "axis": null},
  "y": {"datum": 291, "type": "quantitative", "scale": {"domain": [-68.9, 983.7], "nice": false, "zero": false}, "axis": null},
  "text": {"value": "GRAMS"}}}
]
},
{
"width": 449, "height": 145,
"layer": [
{"data": {"name": "fecalfat"}, "transform": [{"filter": "datum.day > 0"}],
 "mark": {"type": "rect", "fill": "#b0b0b0", "stroke": "black", "strokeWidth": 1.5},
 "encoding": {"x": {"field": "t0", "type": "quantitative", "scale": {"domain": [-3, 18], "nice": false, "zero": false}, "axis": null}, "x2": {"field": "t1"},
  "y": {"field": "grams", "type": "quantitative", "scale": {"domain": [-11.4, 17.6], "nice": false, "zero": false}, "axis": null},
  "y2": {"datum": 0}}},
{"data": {"name": "yticks"}, "transform": [{"filter": "datum.panel == 'fecal'"}],
 "mark": {"type": "rule", "color": "black", "strokeWidth": 1.5},
 "encoding": {"x": {"datum": -3.6, "type": "quantitative", "scale": {"domain": [-3, 18], "nice": false, "zero": false}, "axis": null}, "x2": {"datum": -3.22},
  "y": {"field": "value", "type": "quantitative", "scale": {"domain": [-11.4, 17.6], "nice": false, "zero": false}, "axis": null}}},
{"data": {"name": "yticks"}, "transform": [{"filter": "datum.panel == 'fecal'"}],
 "mark": {"type": "text", "font": "Liberation Sans", "fontSize": 15, "align": "right", "baseline": "middle", "color": "black"},
 "encoding": {"x": {"datum": -3.7, "type": "quantitative", "scale": {"domain": [-3, 18], "nice": false, "zero": false}, "axis": null},
  "y": {"field": "value", "type": "quantitative", "scale": {"domain": [-11.4, 17.6], "nice": false, "zero": false}, "axis": null},
  "text": {"field": "label", "type": "nominal"}}},
{"mark": {"type": "rect", "fill": "black", "stroke": "black", "strokeWidth": 1},
 "encoding": {"x": {"datum": -3.22, "type": "quantitative", "scale": {"domain": [-3, 18], "nice": false, "zero": false}, "axis": null}, "x2": {"datum": -3.05},
  "y": {"datum": 0, "type": "quantitative", "scale": {"domain": [-11.4, 17.6], "nice": false, "zero": false}, "axis": null},
  "y2": {"datum": 10}}},
{"mark": {"type": "rule", "color": "black", "strokeWidth": 2.5},
 "encoding": {"x": {"datum": -3.22, "type": "quantitative", "scale": {"domain": [-3, 18], "nice": false, "zero": false}, "axis": null}, "x2": {"datum": 18},
  "y": {"datum": 0, "type": "quantitative", "scale": {"domain": [-11.4, 17.6], "nice": false, "zero": false}, "axis": null}}},
{"mark": {"type": "rule", "color": "black", "strokeWidth": 1.5},
 "encoding": {"x": {"datum": 0, "type": "quantitative", "scale": {"domain": [-3, 18], "nice": false, "zero": false}, "axis": null},
  "y": {"datum": 17.6, "type": "quantitative", "scale": {"domain": [-11.4, 17.6], "nice": false, "zero": false}, "axis": null}, "y2": {"datum": -10.4}}},
{"data": {"name": "fecalfat"},
 "mark": {"type": "text", "font": "Liberation Sans", "fontSize": 16, "align": "center", "baseline": "middle", "dx": 10.7, "color": "black"},
 "encoding": {"x": {"field": "t0", "type": "quantitative", "scale": {"domain": [-3, 18], "nice": false, "zero": false}, "axis": null},
  "y": {"datum": -1.4, "type": "quantitative", "scale": {"domain": [-11.4, 17.6], "nice": false, "zero": false}, "axis": null},
  "text": {"field": "label", "type": "nominal"}}},
{"mark": {"type": "text", "font": "Liberation Sans", "fontSize": 15, "align": "center", "baseline": "middle", "color": "black"},
 "encoding": {"x": {"datum": -1.6, "type": "quantitative", "scale": {"domain": [-3, 18], "nice": false, "zero": false}, "axis": null},
  "y": {"datum": -5.2, "type": "quantitative", "scale": {"domain": [-11.4, 17.6], "nice": false, "zero": false}, "axis": null},
  "text": {"value": "BEFORE"}}},
{"mark": {"type": "text", "font": "Liberation Sans", "fontSize": 15, "align": "center", "baseline": "middle", "color": "black"},
 "encoding": {"x": {"datum": -1.6, "type": "quantitative", "scale": {"domain": [-3, 18], "nice": false, "zero": false}, "axis": null},
  "y": {"datum": -8.8, "type": "quantitative", "scale": {"domain": [-11.4, 17.6], "nice": false, "zero": false}, "axis": null},
  "text": {"value": "FEEDING"}}},
{"mark": {"type": "text", "font": "Liberation Sans", "fontSize": 15.5, "align": "left", "baseline": "middle", "color": "black"},
 "encoding": {"x": {"datum": 0.95, "type": "quantitative", "scale": {"domain": [-3, 18], "nice": false, "zero": false}, "axis": null},
  "y": {"datum": -5.2, "type": "quantitative", "scale": {"domain": [-11.4, 17.6], "nice": false, "zero": false}, "axis": null},
  "text": {"value": "DURING FEEDING"}}},
{"mark": {"type": "text", "font": "DejaVu Sans", "fontWeight": "bold", "fontSize": 15, "align": "left", "baseline": "middle", "color": "black"},
 "encoding": {"x": {"datum": 18.37, "type": "quantitative", "scale": {"domain": [-3, 18], "nice": false, "zero": false}, "axis": null},
  "y": {"datum": -1.4, "type": "quantitative", "scale": {"domain": [-11.4, 17.6], "nice": false, "zero": false}, "axis": null},
  "text": {"value": "DAYS"}}},
{"mark": {"type": "text", "font": "DejaVu Sans", "fontWeight": "bold", "fontSize": 7, "align": "left", "baseline": "middle", "color": "black"},
 "encoding": {"x": {"datum": 23.15, "type": "quantitative", "scale": {"domain": [-3, 18], "nice": false, "zero": false}, "axis": null},
  "y": {"datum": 12.6, "type": "quantitative", "scale": {"domain": [-11.4, 17.6], "nice": false, "zero": false}, "axis": null},
  "text": {"value": "CE GORDON  KU  881"}}},
{"mark": {"type": "text", "font": "DejaVu Sans", "fontWeight": "bold", "fontSize": 20, "align": "center", "baseline": "middle", "color": "black"},
 "encoding": {"x": {"datum": -9.5, "type": "quantitative", "scale": {"domain": [-3, 18], "nice": false, "zero": false}, "axis": null},
  "y": {"datum": 15, "type": "quantitative", "scale": {"domain": [-11.4, 17.6], "nice": false, "zero": false}, "axis": null},
  "text": {"value": "FECAL"}}},
{"mark": {"type": "text", "font": "DejaVu Sans", "fontWeight": "bold", "fontSize": 20, "align": "center", "baseline": "middle", "color": "black"},
 "encoding": {"x": {"datum": -9.5, "type": "quantitative", "scale": {"domain": [-3, 18], "nice": false, "zero": false}, "axis": null},
  "y": {"datum": 10, "type": "quantitative", "scale": {"domain": [-11.4, 17.6], "nice": false, "zero": false}, "axis": null},
  "text": {"value": "FAT"}}},
{"mark": {"type": "text", "font": "DejaVu Sans", "fontWeight": "bold", "fontSize": 14, "align": "center", "baseline": "middle", "color": "black"},
 "encoding": {"x": {"datum": -9.5, "type": "quantitative", "scale": {"domain": [-3, 18], "nice": false, "zero": false}, "axis": null},
  "y": {"datum": 5, "type": "quantitative", "scale": {"domain": [-11.4, 17.6], "nice": false, "zero": false}, "axis": null},
  "text": {"value": "GRAMS"}}}
]
}
]
}
